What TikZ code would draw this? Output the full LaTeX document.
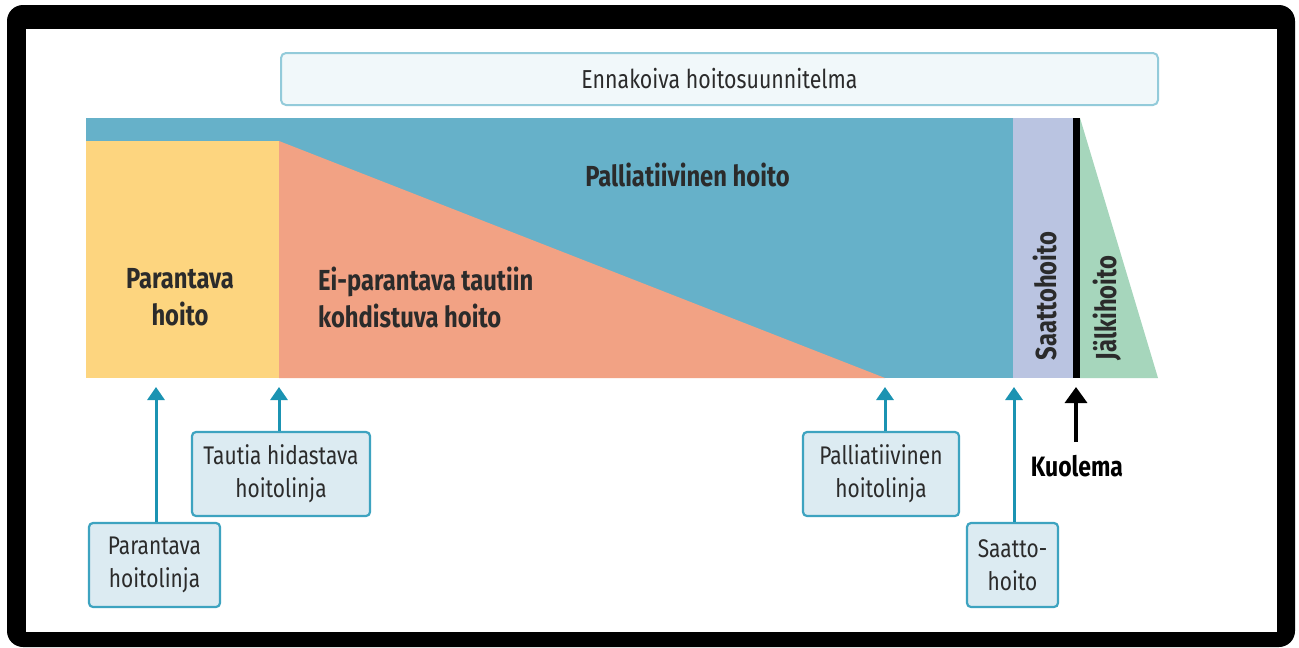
\documentclass[tikz,border=0pt]{standalone}
\usepackage{fontspec}
\setmainfont{Fira Sans}[FakeStretch=0.82]
\usetikzlibrary{arrows.meta}
\definecolor{pblue}{HTML}{66B1C9}
\definecolor{pyellow}{HTML}{FDD57F}
\definecolor{psalmon}{HTML}{F2A284}
\definecolor{plav}{HTML}{BAC4E1}
\definecolor{pgreen}{HTML}{A6D6BC}
\definecolor{teal}{HTML}{1B93B2}
\definecolor{boxfill}{HTML}{DCEBF2}
\definecolor{boxline}{HTML}{3DA3C0}
\definecolor{topfill}{HTML}{F1F8FA}
\definecolor{topline}{HTML}{93CBDA}
\definecolor{txt}{HTML}{2B2B2B}
\tikzset{
  labelbox/.style={draw=boxline, line width=2.2pt, fill=boxfill, rounded corners=4pt,
    text=txt, font=\fontsize{25.5}{33}\selectfont, align=center, inner sep=0pt},
  bigtxt/.style={text=txt, font=\bfseries\fontsize{29}{37}\selectfont, inner sep=0pt},
  tarrow/.style={draw=teal, line width=3pt, -{Triangle[width=17pt,length=13pt]}},
  karrow/.style={draw=black, line width=3.5pt, -{Triangle[width=22pt,length=16pt]}}
}
\begin{document}
\begin{tikzpicture}[x=1pt,y=-1pt]
\useasboundingbox (0,0) rectangle (1299,648);
% frame
\fill[black, rounded corners=16pt] (7,5) rectangle (1295,647);
\fill[white] (26,29) rectangle (1277,632);
% top box
\node[draw=topline, line width=2pt, fill=topfill, rounded corners=5pt, minimum width=877pt,
  minimum height=52pt, inner sep=0pt, text=txt, font=\fontsize{26}{30}\selectfont]
  (plan) at (719.5,79) {Ennakoiva hoitosuunnitelma};
% bands
\fill[pblue] (86,118) rectangle (1013,378);
\fill[pyellow] (86,141) rectangle (279,378);
\fill[psalmon] (279,141) -- (279,378) -- (885,378) -- cycle;
\fill[plav] (1013,118) rectangle (1073,378);
\fill[pgreen] (1080,118) -- (1080,378) -- (1158,378) -- cycle;
\fill[black] (1072.5,118) rectangle (1080,378);
% band texts
\node[bigtxt] (pall) at (687.5,175) {Palliatiivinen hoito};
\node[bigtxt, align=center] (par) at (180,297) {Parantava\\hoito};
\node[bigtxt, align=left, anchor=west] (ei) at (318,297) {Ei-parantava tautiin\\kohdistuva hoito};
\node[bigtxt, rotate=90] (saat) at (1045,296) {Saattohoito};
\node[bigtxt, rotate=90] (jalk) at (1107,308) {Jälkihoito};
% targets
\coordinate (t1) at (156,387);
\coordinate (t2) at (279,387);
\coordinate (t3) at (885,387);
\coordinate (t4) at (1014,387);
\coordinate (t5) at (1076,387);
% label boxes
\node[labelbox, minimum width=131pt, minimum height=84pt] (b1) at (154.5,565) {Parantava\\hoitolinja};
\node[labelbox, minimum width=178pt, minimum height=84pt] (b2) at (281,474) {Tautia hidastava\\hoitolinja};
\node[labelbox, minimum width=156pt, minimum height=84pt] (b3) at (881,474) {Palliatiivinen\\hoitolinja};
\node[labelbox, minimum width=91pt, minimum height=84pt] (b4) at (1012.5,565) {Saatto-\\hoito};
\node[bigtxt, text=black, font=\bfseries\fontsize{28}{30}\selectfont] (kuol) at (1077,466) {Kuolema};
\coordinate (k0) at (1076,442);
% arrows
\draw[tarrow] (b1.north -| t1) -- (t1);
\draw[tarrow] (b2.north -| t2) -- (t2);
\draw[tarrow] (b3.north -| t3) -- (t3);
\draw[tarrow] (b4.north -| t4) -- (t4);
\draw[karrow] (k0) -- (t5);
\end{tikzpicture}
\end{document}
